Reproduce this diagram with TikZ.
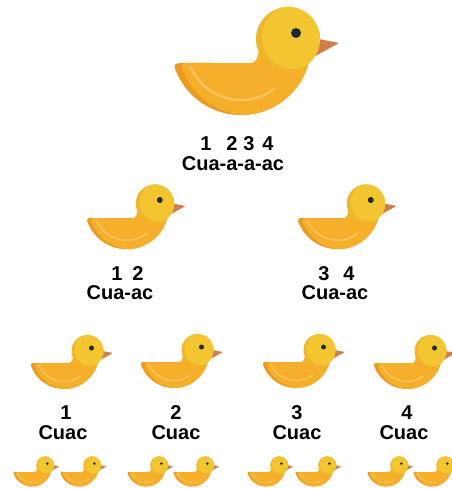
\documentclass[tikz,border=0pt]{standalone}
\usepackage{fontspec}
\setmainfont{Liberation Sans}
\definecolor{headlight}{HTML}{F3C530}
\definecolor{headdark}{HTML}{EFB52C}
\definecolor{bodymain}{HTML}{F6AF2A}
\definecolor{bodydark}{HTML}{E99A1F}
\definecolor{shine}{HTML}{F8C663}
\definecolor{beakcol}{HTML}{D07F4C}
\definecolor{eyecol}{HTML}{1D2A33}
% outline of the half-round body, shifted right by #1
\newcommand\ducklingbody[1]{(9+#1,0) .. controls (3+#1,0) and (0.5+#1,1.5) .. (1.8+#1,4.8)
  arc[start angle=161,end angle=14.9,radius=70] -- cycle}
\tikzset{
  quacktext/.style={font=\bfseries\fontsize{20}{20}\selectfont, inner sep=0pt, anchor=base},
  % a duckling facing right; origin at the left end of the flat back, #1 = size
  pics/duck/.style={code={
    \begin{scope}[scale=#1]
      % beak, partly hidden by the head
      \fill[beakcol, rounded corners=1] (135,-26) -- (166,-20) -- (135,-3) -- cycle;
      % body: darker back layer, lighter front layer
      \fill[bodydark] \ducklingbody{0};
      \begin{scope}
        \clip \ducklingbody{0};
        \fill[bodymain] \ducklingbody{7};
      \end{scope}
      % neck joining back and head
      \fill[bodymain] (76,0.5) .. controls (83,0) and (85,-5) .. (86,-13) -- (100,-13) -- (100,0.5) -- cycle;
      % light stroke on the wing
      \draw[shine, line width=#1*2.4pt, line cap=round]
        (17.8,4.4) arc[start angle=156,end angle=53,radius=55];
      % head with a shaded left side
      \fill[headdark] (115,-24) circle[radius=32];
      \begin{scope}
        \clip (115,-24) circle[radius=32];
        \fill[headlight] (121,-26) circle[radius=32];
      \end{scope}
      % eye
      \fill[eyecol] (123,-30) circle[radius=5];
    \end{scope}
  }}
}
\begin{document}
\begin{tikzpicture}[x=1pt,y=-1pt]
  \fill[white] (0,0) rectangle (451,489);
  \useasboundingbox (0,0) rectangle (451,489);

  % parent duck
  \pic (dA) at (173,63) {duck=1};
  \node[quacktext] (a1) at (206,150) {1};
  \node[quacktext] (a2) at (232,150) {2};
  \node[quacktext] (a3) at (249,150) {3};
  \node[quacktext] (a4) at (268,150) {4};
  \node[quacktext] (aw) at (233,171) {Cua-a-a-ac};

  % middle row
  \pic (dB) at (86,218) {duck=0.6};
  \node[quacktext] (b1) at (117,280) {1};
  \node[quacktext] (b2) at (138,280) {2};
  \node[quacktext] (bw) at (120,299) {Cua-ac};

  \pic (dC) at (297,218) {duck=0.6};
  \node[quacktext] (c3) at (324,280) {3};
  \node[quacktext] (c4) at (349,280) {4};
  \node[quacktext] (cw) at (335,299) {Cua-ac};

  % bottom row
  \pic (dD) at (30,363) {duck=0.5};
  \node[quacktext] (d1) at (66,419) {1};
  \node[quacktext] (dw) at (63,439) {Cuac};

  \pic (dE) at (140,362) {duck=0.5};
  \node[quacktext] (e2) at (176,419) {2};
  \node[quacktext] (ew) at (176,439) {Cuac};

  \pic (dF) at (262,362) {duck=0.5};
  \node[quacktext] (f3) at (297,419) {3};
  \node[quacktext] (fw) at (297,439) {Cuac};

  \pic (dG) at (373,363) {duck=0.5};
  \node[quacktext] (g4) at (407,419) {4};
  \node[quacktext] (gw) at (404,439) {Cuac};

  % little ducklings along the bottom edge
  \foreach \px [count=\k] in {13,60,127,173,247,295,367,413}
    \pic (t\k) at (\px,472) {duck=0.28};
\end{tikzpicture}
\end{document}
